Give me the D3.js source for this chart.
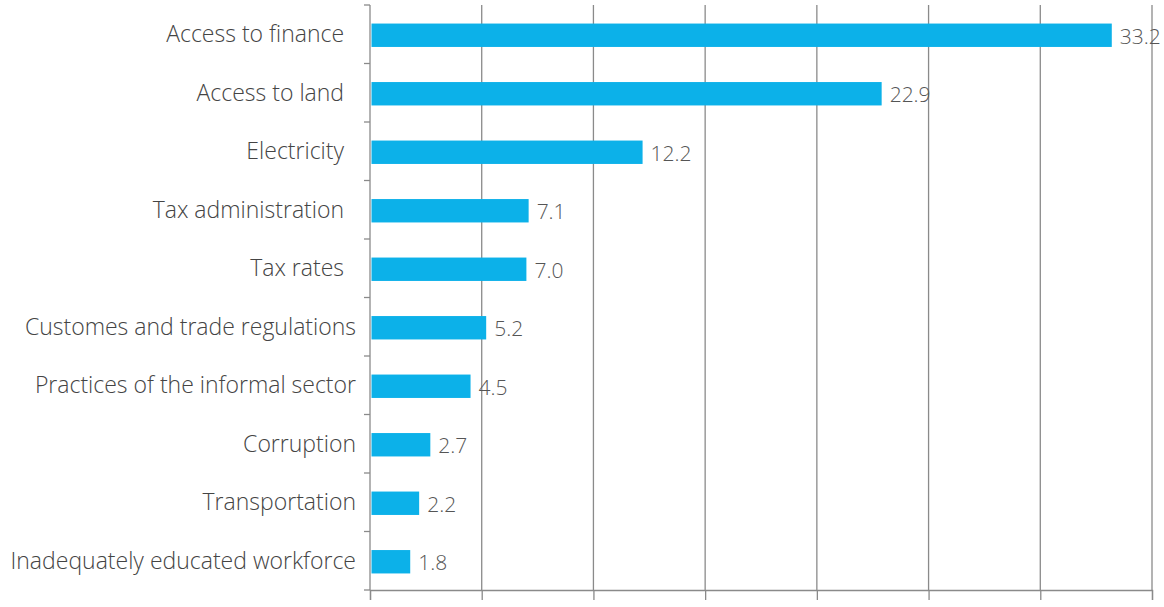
<!DOCTYPE html>
<html>
<head>
<meta charset="utf-8">
<script src="https://cdn.jsdelivr.net/npm/d3@7"></script>
<style>
  html, body { margin: 0; padding: 0; background: #fff; }
  svg text { font-family: "Open Sans", sans-serif; white-space: pre; }
</style>
</head>
<body>
<div id="chart"></div>
<script>
// Obstacles to doing business, share of firms (%)
const categories = [
  "Access to finance  ",
  "Access to land  ",
  "Electricity  ",
  "Tax administration  ",
  "Tax rates  ",
  "Customes and trade regulations",
  "Practices of the informal sector",
  "Corruption",
  "Transportation",
  "Inadequately educated workforce"
]
const values = [33.2, 22.9, 12.2, 7.1, 7.0, 5.2, 4.5, 2.7, 2.2, 1.8]
const xTicks = [0, 5, 10, 15, 20, 25, 30, 35]

const width = 1164
const height = 607
const margin = { top: 5, right: 12, bottom: 17, left: 370 }

const data = categories.map((c, i) => ({ category: c, value: values[i] }))

const svg = d3.select("#chart")
  .append("svg")
  .attr("width", width)
  .attr("height", height)
  .attr("viewBox", [0, 0, width, height])

const x = d3.scaleLinear()
  .domain([0, 35])
  .range([margin.left, width - margin.right])

const y = d3.scaleBand()
  .domain(categories)
  .range([margin.top, height - margin.bottom])
  .paddingInner(0.6)
  .paddingOuter(0.3)

const band = d3.scaleBand()
  .domain(categories)
  .range([margin.top, height - margin.bottom])

// vertical gridlines
svg.append("g")
  .selectAll("line")
  .data(xTicks.slice(1))
  .join("line")
    .attr("x1", d => x(d))
    .attr("x2", d => x(d))
    .attr("y1", margin.top)
    .attr("y2", height - margin.bottom)
    .attr("stroke", "#8a8a8a")
    .attr("stroke-width", 1.3)

// bottom axis, ticks only
const xAxis = svg.append("g")
  .attr("transform", `translate(0,${height - margin.bottom})`)
  .call(d3.axisBottom(x).tickValues(xTicks).tickSize(10).tickFormat(""))
xAxis.select(".domain").attr("stroke", "#8a8a8a").attr("stroke-width", 1.3)
xAxis.selectAll(".tick line").attr("stroke", "#8a8a8a").attr("stroke-width", 1.3)

// left axis with ticks at the band boundaries
const yAxis = svg.append("g")
  .attr("transform", `translate(${margin.left},0)`)
yAxis.append("line")
  .attr("y1", margin.top)
  .attr("y2", height - margin.bottom)
  .attr("stroke", "#8a8a8a")
  .attr("stroke-width", 1.3)
yAxis.selectAll(".bt")
  .data(categories.concat([null]))
  .join("line")
    .attr("class", "bt")
    .attr("x1", -6)
    .attr("x2", 0)
    .attr("y1", (d, i) => margin.top + i * band.step())
    .attr("y2", (d, i) => margin.top + i * band.step())
    .attr("stroke", "#8a8a8a")
    .attr("stroke-width", 1.3)

// bars
svg.append("g")
  .selectAll("rect")
  .data(data)
  .join("rect")
    .attr("x", x(0) + 1.5)
    .attr("y", d => y(d.category) + 1)
    .attr("width", d => x(d.value) - x(0) - 1.5)
    .attr("height", y.bandwidth())
    .attr("fill", "#0cb1e9")

// category labels
svg.append("g")
  .selectAll("text")
  .data(data)
  .join("text")
    .attr("x", margin.left - 14)
    .attr("y", d => y(d.category) + y.bandwidth() / 2)
    .attr("dy", "0.35em")
    .attr("text-anchor", "end")
    .attr("font-size", 23)
    .attr("font-weight", 300)
    .attr("fill", "#444")
    .text(d => d.category)

// value labels
svg.append("g")
  .selectAll("text")
  .data(data)
  .join("text")
    .attr("x", d => x(d.value) + 8)
    .attr("y", d => y(d.category) + y.bandwidth() / 2 + 2)
    .attr("dy", "0.35em")
    .attr("font-size", 21)
    .attr("font-weight", 300)
    .attr("fill", "#555")
    .text(d => d.value.toFixed(1))
</script>
</body>
</html>
